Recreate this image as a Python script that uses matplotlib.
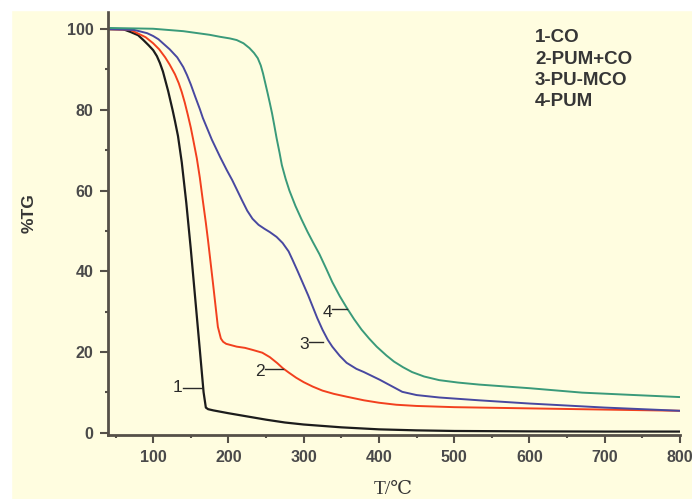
import matplotlib
matplotlib.use('Agg')
import matplotlib.pyplot as plt
from matplotlib.patches import Rectangle

# TG curves (temperature in C, residual mass in %)
t_co = [40, 60, 70, 80, 87, 94, 100, 105, 109, 113, 116, 120, 123, 126, 129, 133, 138,
        144, 150, 156, 162, 167, 170, 173, 180, 200, 225, 250, 275, 300, 350, 400,
        450, 500, 600, 700, 800]
tg_co = [100, 100, 99.3, 98.5, 97.3, 96, 94.8, 93.3, 91.6, 89.5, 87.4, 84.6, 82.2, 79.8,
         77.2, 73.5, 67, 57, 45.5, 33, 20.5, 10, 6.2, 5.8, 5.5, 4.8, 4.0, 3.2, 2.5,
         2.0, 1.3, 0.8, 0.55, 0.4, 0.3, 0.25, 0.25]

t_pumco = [40, 70, 79, 90, 100, 108, 116, 122, 129, 134, 138, 142, 146, 150, 153, 158,
           162, 166, 170, 173, 179.5, 186, 190, 193, 197, 203, 211, 222, 232, 245, 255,
           265, 272, 280, 290, 300, 312, 325, 340, 357, 380, 400, 423, 450, 500, 533,
           600, 700, 800]
tg_pumco = [100, 99.8, 99, 98, 96.5, 95, 93, 91.2, 88.8, 86.6, 84.4, 81.8, 78.8, 75.6,
            72.8, 68, 63.2, 57.5, 52, 47.5, 37, 26.2, 23.3, 22.5, 22, 21.7, 21.3, 21,
            20.5, 19.8, 18.7, 17.2, 16, 14.9, 13.6, 12.5, 11.4, 10.4, 9.6, 8.9, 8, 7.4,
            6.9, 6.6, 6.3, 6.2, 6.0, 5.7, 5.4]

t_pumco3 = [40, 75, 92, 100, 107, 113, 122, 132, 140, 145, 150, 156, 162, 166, 172, 178,
            189, 198, 205, 211, 218, 225, 232, 240, 248, 255, 264, 272, 280, 285, 292,
            299, 306, 312, 318, 325, 332, 338, 348, 357, 370, 380, 401, 420, 431, 450,
            480, 533, 600, 700, 800]
tg_pumco3 = [100, 99.8, 99, 98.3, 97.5, 96.5, 95, 93, 90.6, 88.6, 86.3, 83.2, 80.2, 78,
             75.3, 72.6, 68.3, 65, 62.6, 60.3, 57.6, 55, 53, 51.5, 50.5, 49.7, 48.5, 47,
             44.9, 42.9, 40, 37, 34, 31.2, 28.4, 25.5, 23, 21.3, 19, 17.3, 15.8, 15, 13.1,
             11.2, 10.1, 9.3, 8.7, 8.0, 7.2, 6.2, 5.4]

t_pum = [40, 100, 140, 175, 189, 202, 211, 220, 228, 234, 239, 243, 246, 249, 252, 255,
         258, 261, 264, 268, 271, 276, 281, 289, 297, 305, 312, 321, 330, 338, 348, 357,
         367, 377, 387, 397, 410, 420, 432, 444, 460, 480, 505, 533, 570, 600, 670, 740,
         800]
tg_pum = [100.3, 100.1, 99.5, 98.6, 98.1, 97.7, 97.3, 96.5, 95.3, 94.1, 92.8, 91, 89,
          86.6, 84.2, 81.7, 79.1, 76.1, 73, 69.3, 66.3, 62.9, 60, 56.2, 52.9, 49.8, 47.3,
          44.2, 40.6, 37.3, 33.8, 31, 28.1, 25.5, 23.3, 21.3, 19.1, 17.6, 16.2, 15, 13.9,
          13, 12.4, 11.9, 11.4, 11, 9.9, 9.3, 8.8]

legend_lines = ['1-CO', '2-PUM+CO', '3-PU-MCO', '4-PUM']

bg = '#fffde0'
axcol = '#555048'
txtcol = '#363636'

fig = plt.figure(figsize=(6.92, 4.99), dpi=100)
fig.patch.set_facecolor(bg)
# white strip along the top and left edge of the scan
fig.patches.append(Rectangle((0, 1 - 10 / 499), 1, 10 / 499, transform=fig.transFigure,
                             color='white', zorder=0))
fig.patches.append(Rectangle((0, 0), 11 / 692, 1, transform=fig.transFigure,
                             color='white', zorder=0))

ax = fig.add_axes([108 / 692, 1 - 435 / 499, (680 - 108) / 692, (435 - 11) / 499])
ax.set_facecolor(bg)

ax.plot(t_co, tg_co, color='#1c1c1c', lw=1.6)
ax.plot(t_pumco, tg_pumco, color='#f2401e', lw=1.4)
ax.plot(t_pumco3, tg_pumco3, color='#4848a0', lw=1.4)
ax.plot(t_pum, tg_pum, color='#3a9a7a', lw=1.4)

# curve numbers with short leader lines
lab_kw = dict(fontsize=12.5, color='#2a2a2a', family='Liberation Sans', va='center', ha='center')
for num, tx, ty, x0, x1, yl in [('1', 132, 11.1, 139, 165, 11.1),
                                ('2', 242, 15.1, 249, 273, 15.8),
                                ('3', 300, 21.8, 307, 325, 22.5),
                                ('4', 331, 29.7, 337, 358, 30.7)]:
    ax.text(tx, ty, num, **lab_kw)
    ax.plot([x0, x1], [yl, yl], color='#2a2a2a', lw=1)

for i, s in enumerate(legend_lines):
    fig.text(535 / 692, 1 - (38 + 21.3 * i) / 499, s, fontsize=13.5, fontweight='bold',
             color=txtcol, family='Liberation Sans', va='center', ha='left')

ax.set_xlim(40, 800)
ax.set_ylim(-0.6, 104.5)
ax.set_xticks(range(100, 801, 100))
ax.set_xticks(range(50, 800, 100), minor=True)
ax.set_yticks(range(0, 101, 20))
ax.set_yticks(range(10, 100, 20), minor=True)

for side in ['top', 'right']:
    ax.spines[side].set_visible(False)
for side in ['left', 'bottom']:
    ax.spines[side].set_color(axcol)
    ax.spines[side].set_linewidth(2)

ax.tick_params(which='major', length=5.5, width=1.5, color=axcol, labelsize=11.5,
               labelcolor='#4a4a4a', pad=5)
ax.tick_params(which='minor', length=2.5, width=1.5, color=axcol)
for lab in ax.get_xticklabels() + ax.get_yticklabels():
    lab.set_fontweight('bold')
    lab.set_family('Liberation Sans')

fig.text(29 / 692, 1 - 213 / 499, '%TG', rotation=90, fontsize=12.5, fontweight='bold',
         color=txtcol, family='Liberation Sans', va='center', ha='center')
fig.text(393 / 692, 1 - 490 / 499, 'T/℃', fontsize=14, color=txtcol,
         family=['Liberation Serif', 'DejaVu Serif'], va='center', ha='center')

plt.savefig('out.png', dpi=100, facecolor=fig.get_facecolor())
